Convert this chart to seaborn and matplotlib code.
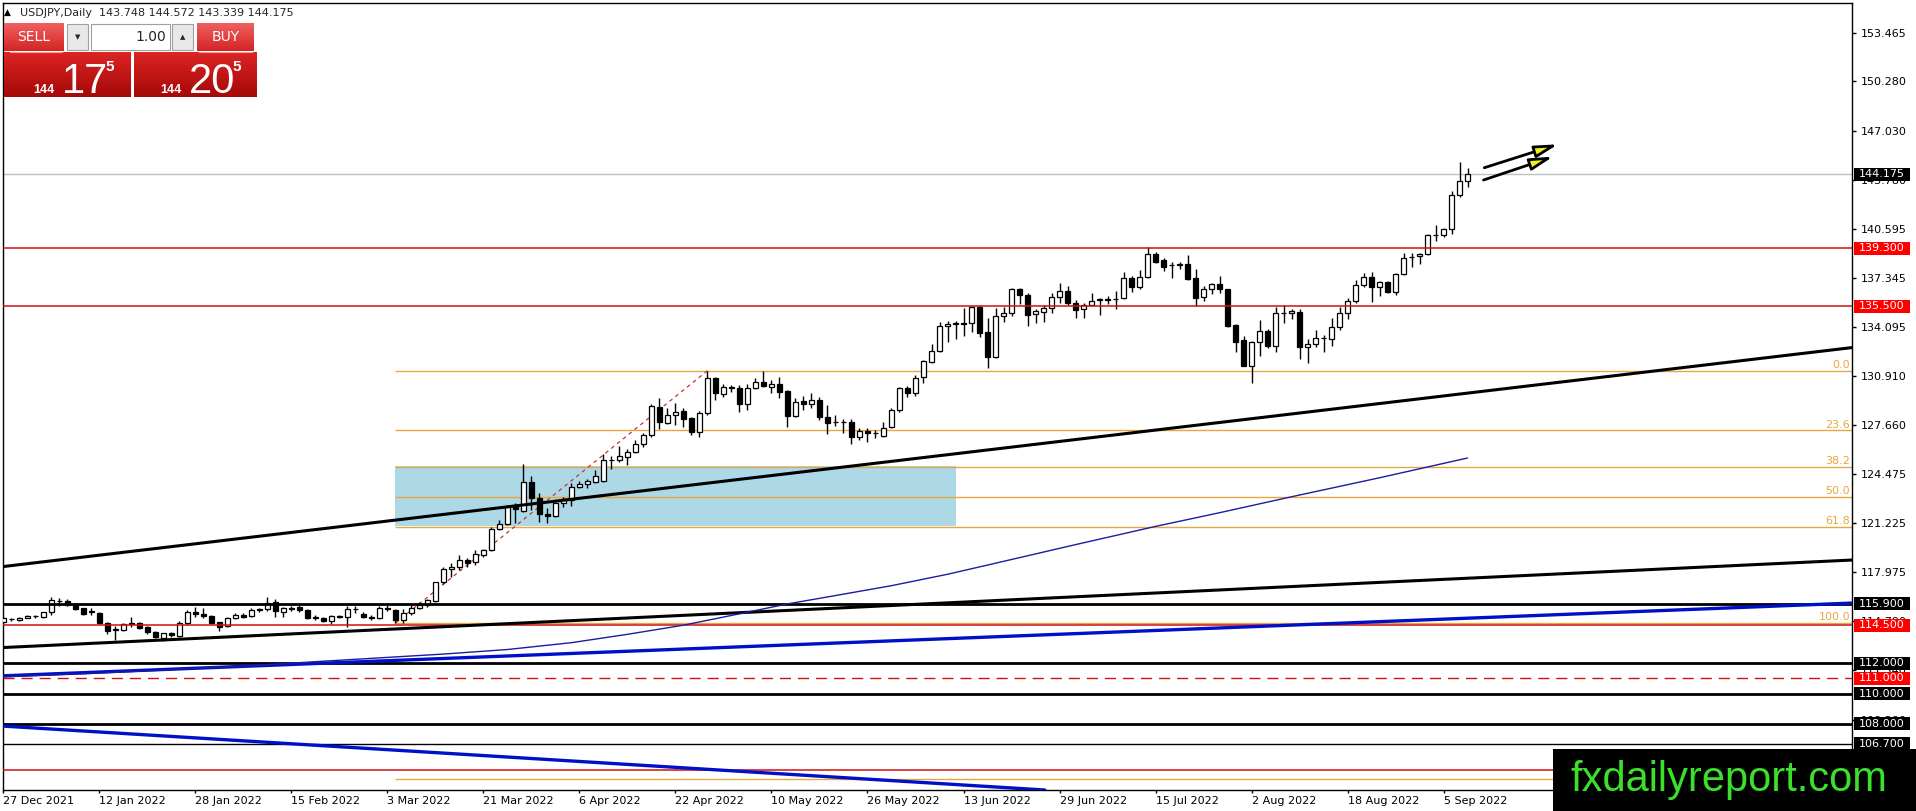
import numpy as np
import pandas as pd
import matplotlib
matplotlib.use('Agg')
import matplotlib.pyplot as plt
import matplotlib.transforms as mtransforms
from matplotlib.patches import Rectangle
from matplotlib.colors import LinearSegmentedColormap
import seaborn as sns

# USDJPY daily candles (27 Dec 2021 .. 8 Sep 2022)
dates = pd.bdate_range('2021-12-27', '2022-09-08')

opens = [
    114.74, 114.88, 114.85, 115.00, 115.10, 115.02, 115.35, 116.12, 116.12, 115.85,
    115.60, 115.40, 115.30, 114.63, 114.20, 114.20, 114.60, 114.62, 114.35, 114.08,
    113.65, 113.97, 113.80, 114.67, 115.38, 115.26, 115.12, 114.68, 114.42, 114.96,
    115.20, 115.13, 115.55, 115.55, 116.05, 115.40, 115.58, 115.70, 115.52, 114.99,
    115.00, 114.80, 115.08, 115.07, 115.55, 115.22, 115.05, 114.98, 115.60, 115.50,
    114.85, 115.30, 115.65, 115.83, 116.10, 117.32, 118.18, 118.31, 118.79, 118.64,
    119.12, 119.45, 120.83, 121.16, 122.41, 122.04, 123.90, 122.85, 121.80, 121.68,
    122.52, 122.74, 123.57, 123.77, 123.94, 124.01, 125.37, 125.37, 125.59, 125.87,
    126.40, 126.99, 128.88, 127.83, 128.33, 128.60, 128.11, 127.23, 128.44, 130.74,
    129.69, 130.15, 130.08, 129.03, 130.08, 130.48, 130.20, 130.37, 129.90, 128.29,
    129.25, 129.03, 129.30, 128.22, 127.90, 127.90, 127.85, 126.86, 127.26, 127.12,
    126.97, 127.52, 128.64, 130.11, 129.80, 130.85, 131.84, 132.52, 134.16, 134.32,
    134.36, 134.36, 135.41, 133.77, 132.12, 134.87, 135.02, 136.60, 136.20, 134.95,
    135.09, 135.39, 136.12, 136.51, 135.68, 135.28, 135.57, 135.90, 135.93, 135.93,
    136.01, 137.37, 136.77, 137.39, 138.92, 138.53, 138.18, 138.22, 138.24, 137.32,
    136.12, 136.60, 136.93, 136.60, 134.25, 133.27, 131.58, 133.11, 133.86, 132.87,
    135.04, 135.02, 135.09, 132.83, 132.98, 133.39, 133.31, 134.14, 135.02, 135.85,
    136.88, 137.43, 136.73, 137.10, 136.45, 137.61, 138.73, 138.79, 138.90, 140.15,
    140.15, 140.55, 142.78, 143.748,
]
highs = [
    115.03, 115.00, 115.05, 115.18, 115.20, 115.40, 116.35, 116.30, 116.25, 115.95,
    115.65, 115.60, 115.35, 114.70, 114.42, 114.65, 115.07, 114.70, 114.45, 114.15,
    114.00, 114.05, 114.75, 115.50, 115.69, 115.60, 115.20, 114.70, 115.05, 115.28,
    115.30, 115.65, 115.62, 116.34, 116.20, 115.70, 115.75, 115.80, 115.55, 115.15,
    115.05, 115.20, 115.20, 115.75, 115.75, 115.35, 115.15, 115.75, 115.80, 115.55,
    115.55, 115.80, 116.00, 116.25, 117.35, 118.30, 118.57, 119.12, 118.90, 119.45,
    119.50, 120.95, 121.42, 122.40, 122.52, 125.09, 124.32, 123.22, 122.19, 122.60,
    122.96, 123.83, 124.01, 124.10, 124.71, 125.76, 125.63, 126.31, 126.09, 126.69,
    127.12, 129.05, 129.43, 128.77, 129.10, 128.77, 128.22, 128.60, 131.25, 130.80,
    130.35, 130.30, 130.30, 130.40, 130.74, 131.25, 130.63, 130.85, 129.95, 129.43,
    129.58, 129.76, 129.54, 128.99, 128.33, 128.05, 128.07, 127.45, 127.50, 127.35,
    127.85, 128.81, 130.20, 130.24, 130.96, 131.95, 133.00, 134.47, 134.52, 134.52,
    135.35, 135.52, 135.57, 134.69, 135.39, 135.46, 136.67, 136.67, 136.34, 135.28,
    135.55, 136.34, 136.99, 136.82, 135.90, 135.72, 136.34, 136.01, 136.16, 136.51,
    137.72, 137.50, 137.87, 139.36, 139.08, 138.64, 138.42, 138.42, 138.86, 137.91,
    136.82, 136.99, 137.48, 136.62, 134.30, 133.53, 133.20, 134.58, 133.97, 135.46,
    135.57, 135.28, 135.30, 133.31, 133.92, 133.59, 134.69, 135.46, 136.01, 137.21,
    137.65, 137.72, 137.17, 137.17, 137.70, 138.97, 139.01, 139.01, 140.22, 140.83,
    140.61, 143.07, 144.98, 144.572,
]
lows = [
    114.63, 114.78, 114.80, 114.95, 114.95, 114.95, 115.20, 115.75, 115.75, 115.50,
    115.15, 115.15, 114.55, 113.95, 113.50, 114.15, 114.40, 114.25, 113.95, 113.65,
    113.46, 113.75, 113.75, 114.50, 115.05, 114.95, 114.60, 114.15, 114.35, 114.90,
    115.00, 115.05, 115.40, 115.45, 115.07, 115.07, 115.45, 115.40, 114.90, 114.85,
    114.70, 114.60, 114.95, 114.40, 115.30, 114.95, 114.85, 114.90, 115.45, 114.65,
    114.65, 115.20, 115.55, 115.70, 116.05, 117.20, 117.69, 118.13, 118.35, 118.46,
    119.00, 119.40, 120.76, 121.10, 121.20, 121.98, 122.08, 121.31, 121.25, 121.60,
    122.25, 122.34, 123.50, 123.50, 123.85, 123.95, 124.75, 125.26, 125.04, 125.81,
    126.25, 126.90, 127.41, 127.74, 127.67, 127.52, 127.01, 126.90, 128.35, 129.32,
    129.54, 129.87, 128.55, 128.66, 130.02, 130.15, 129.76, 129.43, 127.52, 128.22,
    128.66, 128.77, 128.00, 127.08, 127.61, 127.12, 126.42, 126.69, 126.58, 126.80,
    126.91, 127.45, 128.55, 129.50, 129.60, 130.41, 131.77, 132.47, 133.15, 133.31,
    133.53, 133.81, 133.48, 131.45, 132.06, 134.47, 134.84, 135.63, 134.21, 134.36,
    134.47, 135.06, 135.72, 135.57, 134.73, 134.73, 135.57, 134.91, 135.63, 135.31,
    135.94, 136.45, 136.60, 137.32, 138.35, 137.83, 137.37, 137.91, 137.21, 135.50,
    135.85, 136.27, 136.34, 134.14, 132.50, 131.55, 130.41, 132.21, 132.76, 132.50,
    134.36, 134.63, 132.04, 131.73, 132.83, 132.50, 132.89, 133.92, 134.63, 135.68,
    136.77, 135.79, 136.16, 136.34, 136.23, 137.54, 138.05, 138.24, 138.86, 139.80,
    140.07, 140.22, 142.65, 143.339,
]
closes = [
    114.96, 114.90, 115.00, 115.13, 115.08, 115.35, 116.16, 116.10, 115.85, 115.58,
    115.25, 115.45, 114.65, 114.12, 114.22, 114.58, 114.62, 114.30, 114.05, 113.70,
    113.97, 113.85, 114.67, 115.40, 115.26, 115.10, 114.65, 114.40, 114.96, 115.20,
    115.07, 115.51, 115.52, 115.95, 115.45, 115.61, 115.60, 115.50, 114.95, 115.02,
    114.78, 115.10, 115.05, 115.55, 115.57, 115.02, 115.00, 115.65, 115.55, 114.85,
    115.30, 115.65, 115.85, 116.16, 117.32, 118.20, 118.35, 118.79, 118.57, 119.16,
    119.45, 120.83, 121.16, 122.30, 122.12, 123.90, 122.85, 121.80, 121.68, 122.52,
    122.74, 123.60, 123.79, 123.99, 124.32, 125.37, 125.35, 125.63, 125.92, 126.40,
    126.99, 128.92, 127.85, 128.33, 128.55, 128.09, 127.23, 128.48, 130.74, 129.76,
    130.15, 130.12, 129.03, 130.08, 130.48, 130.24, 130.37, 129.87, 128.29, 129.16,
    129.03, 129.30, 128.22, 127.83, 127.88, 127.88, 126.86, 127.26, 127.12, 127.15,
    127.50, 128.64, 130.11, 129.80, 130.74, 131.88, 132.52, 134.16, 134.30, 134.36,
    134.34, 135.41, 133.75, 132.12, 134.87, 135.02, 136.60, 136.20, 134.93, 135.15,
    135.39, 136.12, 136.51, 135.68, 135.24, 135.57, 135.85, 135.96, 135.90, 135.96,
    137.37, 136.77, 137.43, 138.90, 138.42, 138.09, 138.20, 138.24, 137.28, 136.05,
    136.60, 136.93, 136.60, 134.19, 133.16, 131.58, 133.11, 133.86, 132.87, 135.02,
    135.06, 135.17, 132.83, 133.00, 133.37, 133.37, 134.14, 135.02, 135.85, 136.88,
    137.43, 136.73, 137.10, 136.45, 137.61, 138.64, 138.75, 138.90, 140.15, 140.17,
    140.55, 142.78, 143.73, 144.175,
]

# 200-day moving average, read at a few bars along the thin blue curve
ma_bars = [0, 10, 20, 30, 39, 47, 55, 63, 71, 78, 85, 92, 98, 104, 111, 118, 125, 134, 144, 152, 161, 172, 183]
ma_vals = [111.10, 111.30, 111.55, 111.80, 112.10, 112.35, 112.60, 112.90, 113.35, 113.90, 114.50,
           115.25, 115.90, 116.45, 117.10, 117.85, 118.70, 119.80, 121.00, 121.90, 122.95, 124.20, 125.50]

# horizontal levels (105.000 and fib 161.8 sit under the logo, so they get no label)
red_levels = [139.300, 135.500, 114.500]
hidden_red_levels = [105.000]
black_levels = [115.900, 112.000, 110.000, 108.000]
thin_black_levels = [106.700]
dashed_red_levels = [111.000]
last_price = 144.175

# fibonacci retracement (anchored at bar 49 low and bar 88 high)
fib_levels = [0.0, 23.6, 38.2, 50.0, 61.8, 100.0]
hidden_fib_levels = [161.8]
fib_high = 131.25
fib_low = 114.64
fib_anchor = [(49, 114.64), (88, 131.25)]

# trend lines (bar, price) pairs
upper_trend = [(0, 118.36), (183, 129.77)]
lower_trend = [(0, 113.03), (183, 117.59)]
blue_trend = [(0, 111.17), (183, 114.96)]
blue_down = [(0, 107.86), (100, 104.63)]

# shaded zone and the two arrows
zone_bars = [49, 119]
zone_prices = [121.0, 125.0]
arrows = [((185.1, 144.60), (194.3, 146.14)), ((185.0, 143.79), (193.7, 145.33))]

price_ticks = [153.465, 150.280, 147.030, 143.780, 140.595, 137.345, 134.095, 130.910,
               127.660, 124.475, 121.225, 117.975, 114.790, 111.540, 108.290]

sns.set_style('white')
plt.rcParams['font.family'] = ['DejaVu Sans']

W, H = 1916, 811
fig = plt.figure(figsize=(W / 100, H / 100), dpi=100)
ax = fig.add_axes([3 / W, (H - 790) / H, 1849 / W, 787 / H])
X_MIN, X_MAX = -0.06, 231.06
Y_MIN, Y_MAX = 103.656, 155.439
FIB = '#e6a83e'
RED = '#d01010'

x = np.arange(len(dates))
o, h, l, c = map(np.array, (opens, highs, lows, closes))

# zone
ax.add_patch(Rectangle((zone_bars[0], zone_prices[0]), zone_bars[1] - zone_bars[0],
                       zone_prices[1] - zone_prices[0], fc='#add8e6', ec='none', zorder=1))

# fib levels
span = fib_high - fib_low
fib_prices = fib_high - np.array(fib_levels) / 100 * span
ax.hlines(fib_prices, fib_anchor[0][0], X_MAX, colors=FIB, lw=1, zorder=2)
ax.hlines(fib_high - np.array(hidden_fib_levels) / 100 * span, fib_anchor[0][0], X_MAX,
          colors=FIB, lw=1, zorder=2)
for lv, p in zip(fib_levels, fib_prices):
    ax.text(X_MAX - 0.25, p + 0.04, f'{lv:.1f}', ha='right', va='bottom', color=FIB, fontsize=8, zorder=2)
ax.plot(*zip(*fib_anchor), color='#d03030', lw=0.9, ls=(0, (3, 3)), zorder=2)

# candles
ax.vlines(x, l, h, colors='black', lw=1, zorder=3)
body_col = np.where(c >= o, 'white', 'black')
ax.bar(x, np.abs(c - o), bottom=np.minimum(o, c), width=0.6, color=body_col,
       edgecolor='black', linewidth=0.9, zorder=4)

# levels
ax.axhline(last_price, color='#c0c0c0', lw=1, zorder=2)
for p in red_levels + hidden_red_levels:
    ax.axhline(p, color=RED, lw=1.1, zorder=5)
for p in black_levels:
    ax.axhline(p, color='black', lw=2, zorder=5)
for p in thin_black_levels:
    ax.axhline(p, color='black', lw=1, zorder=5)
for p in dashed_red_levels:
    ax.axhline(p, color=RED, lw=1, ls=(0, (8, 5)), zorder=5)

# trend lines
ax.axline(*upper_trend, color='black', lw=2.2, zorder=5)
ax.axline(*lower_trend, color='black', lw=2.2, zorder=5)
ax.axline(*blue_trend, color='#0010c8', lw=2.4, zorder=5)
ax.axline(*blue_down, color='#0010c8', lw=2.4, zorder=5)
sns.lineplot(x=ma_bars, y=ma_vals, ax=ax, color='#1c1ca0', lw=1, zorder=5)

for start, tip in arrows:
    ax.annotate('', xy=tip, xytext=start, zorder=6,
                arrowprops=dict(arrowstyle='-|>,head_length=1.15,head_width=0.3', mutation_scale=12,
                                fc='#f2f21c', ec='black', lw=2.0, shrinkA=0, shrinkB=0))

ax.set_xlim(X_MIN, X_MAX)
ax.set_ylim(Y_MIN, Y_MAX)

# axes
ax.yaxis.tick_right()
ax.set_yticks(price_ticks)
ax.set_yticklabels([f'{v:.3f}' for v in price_ticks])
ax.set_xticks(x[::12])
ax.set_xticklabels(dates[::12].strftime('%-d %b %Y'), ha='left')
ax.tick_params(axis='y', length=3, width=1, pad=3, labelsize=8, right=True, left=False, colors='black')
ax.tick_params(axis='x', length=2.5, width=1, pad=2, labelsize=8, bottom=True, colors='black')
for sp in ax.spines.values():
    sp.set_color('black')
    sp.set_linewidth(1)
ax.set_xlabel('')
ax.set_ylabel('')
ax.grid(False)

# price tags on the axis
blend = mtransforms.blended_transform_factory(ax.transAxes, ax.transData)
px = 1 / 1849
half = 6.5 / 15.198


def price_tag(p, fc):
    ax.add_patch(Rectangle((1 + 2 * px, p - half), 56 * px, 2 * half, transform=blend,
                           fc=fc, ec='none', clip_on=False, zorder=10))
    ax.text(1 + 30 * px, p, f'{p:.3f}', transform=blend, ha='center', va='center',
            color='white', fontsize=8, zorder=11, clip_on=False)


price_tag(last_price, 'black')
for p in black_levels + thin_black_levels:
    price_tag(p, 'black')
for p in red_levels + dashed_red_levels:
    price_tag(p, '#ff0000')

# overlay in pixel coordinates: header, trade panel, logo
ov = fig.add_axes([0, 0, 1, 1])
ov.patch.set_alpha(0)
ov.axis('off')


def grad_box(x0, y0, x1, y1, top, bottom):
    cmap = LinearSegmentedColormap.from_list('g', [top, bottom])
    ov.imshow(np.linspace(0, 1, 32).reshape(-1, 1), cmap=cmap, extent=(x0, x1, y1, y0),
              aspect='auto', zorder=2, interpolation='bilinear')


ov.text(4, 12, '\u25B2', fontsize=6.5, va='center', ha='left', color='black')
ov.text(20, 13, 'USDJPY,Daily  143.748 144.572 143.339 144.175', fontsize=8, va='center', ha='left')

grad_box(4, 23, 64, 51, '#f06060', '#d42424')
grad_box(197, 23, 254, 51, '#f06060', '#d42424')
grad_box(4, 52, 131, 97, '#dc2424', '#a60808')
grad_box(134, 52, 257, 97, '#dc2424', '#a60808')
ov.plot([10, 62], [51.5, 51.5], color='#ff9a9a', lw=0.8, zorder=3)
ov.plot([199, 252], [51.5, 51.5], color='#ff9a9a', lw=0.8, zorder=3)
for bx, bw in [(67, 21), (91, 79), (172, 21)]:
    ov.add_patch(Rectangle((bx, 24), bw, 26, fc='#e8e8e8' if bw < 30 else 'white',
                           ec='#a0a0a0', lw=0.8, zorder=2))
ov.text(77.5, 37, '\u25BC', fontsize=5, ha='center', va='center', zorder=3)
ov.text(182.5, 37, '\u25B2', fontsize=5, ha='center', va='center', zorder=3)
ov.text(166, 37, '1.00', fontsize=10, ha='right', va='center', zorder=3)
ov.text(34, 37, 'SELL', fontsize=10, ha='center', va='center', color='white', zorder=3)
ov.text(225.5, 37, 'BUY', fontsize=10, ha='center', va='center', color='white', zorder=3)

big = ['Liberation Sans Narrow', 'Liberation Sans', 'DejaVu Sans']
for x0, small, digits in [(33, '144', '17'), (160, '144', '20')]:
    ov.text(x0, 93, small, fontsize=9, color='white', ha='left', va='baseline', zorder=3,
            family=big, weight='bold')
    ov.text(x0 + 29, 93, digits, fontsize=30, color='white', ha='left', va='baseline', zorder=3,
            family=big)
    ov.text(x0 + 72, 71, '5', fontsize=11, color='white', ha='left', va='baseline', zorder=3,
            family=big, weight='bold')

ov.add_patch(Rectangle((1553, 749), W - 1553, H - 749, fc='black', ec='none', zorder=4))
ov.text(1729, 780, 'fxdailyreport.com', fontsize=30, color='#3be02a', ha='center', va='center',
        family=['Liberation Sans', 'DejaVu Sans'], zorder=5)

ov.set_xlim(0, W)
ov.set_ylim(H, 0)

fig.savefig('out.png', dpi=100, facecolor='white')
